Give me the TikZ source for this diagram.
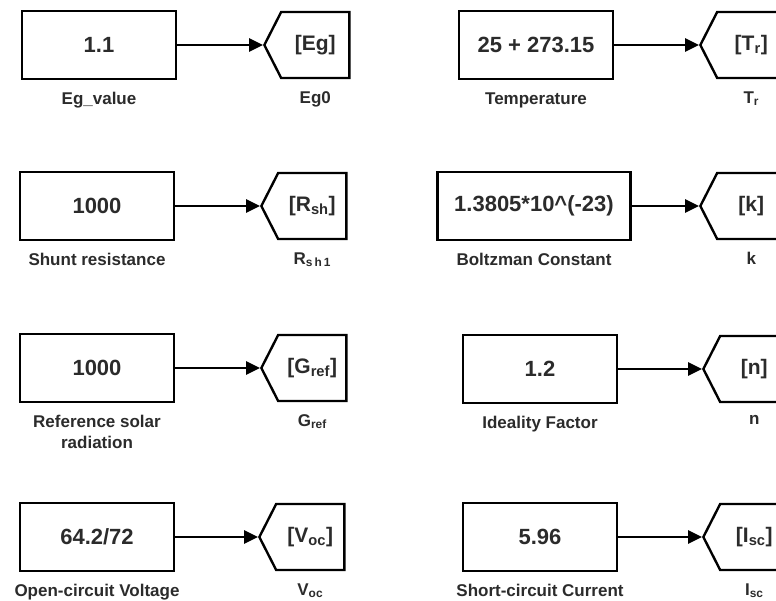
\documentclass[tikz,border=0pt]{standalone}
\usepackage{fontspec}
\setmainfont{Liberation Sans}
\usetikzlibrary{positioning,shapes.symbols,arrows.meta}
\definecolor{inkgray}{HTML}{2B2B2B}

\begin{document}
\begin{tikzpicture}[x=1pt,y=-1pt,
    constbox/.style={draw,line width=2.9pt,minimum width=154pt,minimum height=68pt,
        inner sep=17pt,font=\bfseries\fontsize{22}{26}\selectfont,text=inkgray},
    gototag/.style={signal,signal to=west,signal from=nowhere,signal pointer angle=126,
        draw,line width=2.4pt,minimum width=85pt,minimum height=66pt,anchor=west,
        font=\bfseries\fontsize{21}{25}\selectfont,text=inkgray},
    blockname/.style={inner sep=0pt,align=center,
        font=\bfseries\fontsize{17}{21}\selectfont,text=inkgray},
    wire/.style={line width=2.9pt,-{Triangle[length=14pt,width=13pt]}}]
  \useasboundingbox (0,0) rectangle (776,601);
  \clip (0,0) rectangle (776,601);
  % constant blocks feeding goto tags
  \foreach \i/\cx/\cy/\val/\cname/\tx/\tag/\tname in {
      1/99/45/{1.1}/{Eg\_value}/263/{[Eg]}/{Eg0},
      2/97/206/{1000}/{Shunt resistance}/260/{[R\textsubscript{sh}]}/{R\textsubscript{s\,h\,1}},
      3/97/368/{1000}/{Reference solar\\radiation}/260/{[G\textsubscript{ref}]}/{G\textsubscript{ref}},
      4/97/537/{64.2/72}/{Open-circuit Voltage}/258/{[V\textsubscript{oc}]}/{V\textsubscript{oc}},
      5/536/45/{25 + 273.15}/{Temperature}/699/{[T\textsubscript{r}]}/{T\textsubscript{r}},
      6/534/206/{1.3805*10\^{}(-23)}/{Boltzman Constant}/699/{[k]}/{k},
      7/540/369/{1.2}/{Ideality Factor}/702/{[n]}/{n},
      8/540/537/{5.96}/{Short-circuit Current}/702/{[I\textsubscript{sc}]}/{I\textsubscript{sc}}}{
      \node[constbox] (c\i) at (\cx,\cy) {\val};
      \node[gototag] (g\i) at (\tx,\cy) {\tag};
      \node[blockname,below=12pt of c\i] (cl\i) {\cname};
      \node[blockname,below=12pt of g\i] (gl\i) {\tname};
      \draw[wire] (c\i) -- (g\i.west);
    }
\end{tikzpicture}
\end{document}
